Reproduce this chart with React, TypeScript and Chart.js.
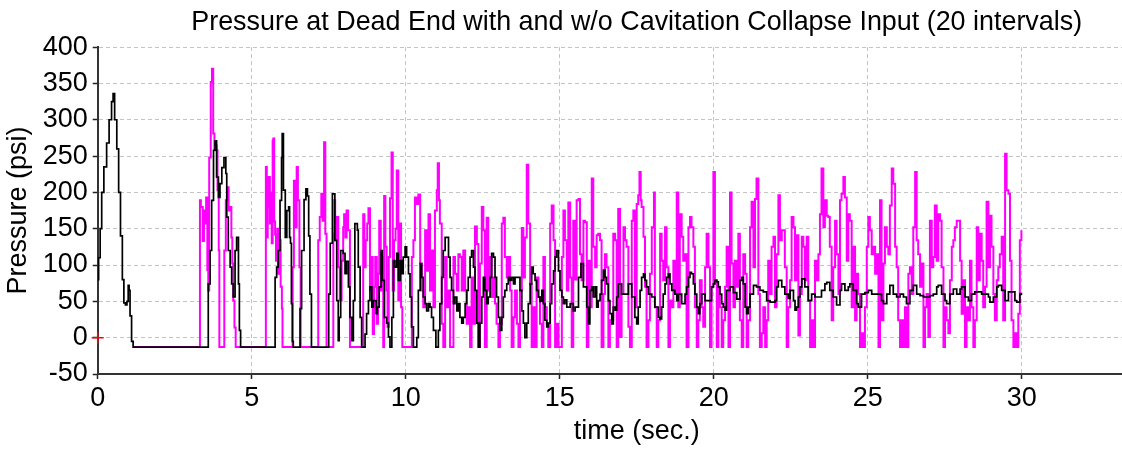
import React, { useEffect, useRef } from "react";
import { Chart, registerables } from "chart.js";

Chart.register(...registerables);

const chartTitle = "Pressure at Dead End with and w/o Cavitation Collapse Input (20 intervals)";
const xAxisTitle = "time (sec.)";
const yAxisTitle = "Pressure (psi)";
const xRange = [0, 35];
const xStep = 5;
const yRange = [-50, 400];
const yStep = 50;

// [time (s), pressure (psi)] — without cavitation collapse input (black)
const withoutCollapse: [number, number][] = [
  [0,80],[0.03,110],[0.08,150],[0.13,200],[0.2,235],[0.29,268],[0.37,300],[0.45,325],[0.5,336],[0.55,300],[0.62,260],[0.68,200],[0.74,140],[0.8,80],[0.85,48],[0.9,45],[0.95,50],[0.99,72],[1.02,65],[1.05,30],[1.1,-5],[1.15,-13],
  [3.54,-13],[3.59,74],[3.65,120],[3.7,189],[3.76,258],[3.81,271],[3.86,221],[3.92,193],[3.97,212],[4.03,234],[4.1,248],[4.16,226],[4.19,166],[4.24,120],[4.3,97],[4.35,74],[4.4,56],[4.46,120],[4.51,138],[4.57,74],[4.6,10],[4.64,-13],
  [5.7,-13],[5.76,83],[5.81,97],[5.86,120],[5.92,189],[5.97,248],[5.99,281],[6.03,203],[6.09,138],[6.14,175],[6.2,180],[6.23,138],[6.26,130],[6.29,47],[6.32,-5],[6.35,-13],
  [6.52,-13],[6.57,40],[6.62,120],[6.7,190],[6.76,205],[6.81,195],[6.85,140],[6.89,60],[6.94,-13],
  [7.43,-13],[7.5,60],[7.55,130],[7.62,198],[7.7,134],[7.76,51],[7.81,-4],[7.84,28],[7.89,120],[7.97,116],[8.03,88],[8.08,105],[8.14,70],[8.19,28],[8.25,-4],[8.3,51],[8.35,157],[8.39,157],[8.43,148],[8.46,97],[8.52,28],[8.57,-13],[8.62,-13],[8.68,5],[8.73,33],[8.79,51],[8.84,70],[8.9,42],[8.95,51],[9.04,33],[9.08,42],[9.14,70],[9.2,120],[9.24,79],[9.31,28],[9.38,20],[9.44,1],[9.49,-13],[9.55,28],[9.6,106],[9.65,97],[9.71,116],[9.76,79],[9.82,106],[9.87,88],[9.92,111],
  [9.98,125],[10.03,111],[10.09,88],[10.14,56],[10.19,15],[10.25,-13],[10.3,-13],[10.36,0],[10.41,65],[10.47,102],[10.52,83],[10.57,56],[10.63,47],[10.68,37],[10.74,47],[10.79,42],[10.84,28],[10.9,10],[10.98,-13],[11.06,10],[11.11,47],[11.17,83],[11.22,120],[11.28,138],[11.33,138],[11.39,111],[11.44,83],[11.49,65],[11.55,47],[11.6,56],[11.66,37],[11.71,47],[11.76,28],[11.82,20],[11.87,28],[11.93,47],[11.98,65],[12.03,83],[12.09,111],[12.14,120],[12.2,97],[12.25,65],[12.31,20],[12.36,-13],[12.41,20],[12.47,56],[12.52,83],[12.57,65],[12.63,47],[12.68,56],[12.74,83],[12.79,116],[12.85,111],[12.9,83],[12.95,56],[13.01,28],[13.06,10],[13.12,28],[13.17,56],[13.22,65],[13.28,74],[13.33,83],[13.39,79],[13.44,83],[13.5,74],[13.55,83],[13.61,83],[13.66,83],[13.71,65],[13.77,37],[13.82,20],[13.87,0],[13.93,20],[13.98,47],[14.04,74],[14.09,97],[14.14,88],[14.2,79],[14.25,65],[14.31,56],[14.36,50],[14.42,65],[14.47,47],[14.52,24],[14.58,15],[14.63,20],[14.69,47],[14.74,74],[14.8,92],[14.85,111],[14.9,120],[14.96,92],[15.01,65],[15.07,56],[15.12,47],[15.17,52],[15.23,42],[15.34,47],[15.44,37],
  [15.5,42],[15.61,83],[15.69,102],[15.77,70],[15.88,42],[15.93,19],[15.98,65],[16.04,70],[16.09,56],[16.15,70],[16.2,42],[16.25,51],[16.31,60],[16.36,79],[16.42,93],[16.47,83],[16.52,74],[16.58,51],[16.63,33],[16.69,19],[16.74,42],[16.8,38],[16.85,56],[16.9,74],[17.01,60],[17.12,60],[17.23,74],[17.34,56],[17.44,28],[17.5,19],[17.55,42],[17.61,65],[17.66,83],[17.72,88],[17.77,79],[17.82,70],[17.88,60],[17.99,56],[18.09,42],[18.2,28],[18.26,26],[18.31,42],[18.36,60],[18.42,74],[18.47,83],[18.53,88],[18.58,74],[18.64,65],[18.74,60],[18.8,51],[18.85,60],[18.96,47],[19.07,60],[19.12,70],[19.18,83],[19.23,90],[19.28,88],[19.34,74],[19.39,60],[19.45,42],[19.5,33],[19.55,47],[19.61,60],[19.72,51],[19.83,51],[19.93,70],[19.99,74],[20.04,79],[20.1,77],[20.15,70],[20.2,60],[20.26,47],[20.31,42],
  [20.37,38],[20.42,65],[20.53,70],[20.64,62],[20.75,53],[20.85,79],[20.91,83],[20.96,74],[21.02,42],[21.07,33],[21.12,42],[21.18,60],[21.29,72],[21.39,70],[21.5,65],[21.61,63],[21.72,51],[21.83,49],[21.94,49],[21.99,51],[22.04,70],[22.1,79],[22.21,70],[22.31,60],[22.42,54],[22.48,65],[22.59,51],[22.64,38],[22.69,42],[22.75,56],[22.8,70],[22.86,81],[22.96,70],[23.07,51],[23.18,60],[23.29,56],[23.4,56],[23.5,65],[23.61,74],[23.67,76],[23.77,65],[23.88,56],[23.99,45],[24.1,65],[24.15,74],[24.26,65],[24.37,70],[24.42,74],[24.53,65],[24.64,47],[24.69,42],[24.8,60],[24.91,62],[25.02,65],[25.13,60],[25.24,60],
  [25.35,60],[25.45,51],[25.51,47],[25.62,60],[25.72,72],[25.83,60],[25.94,56],[26.05,60],[26.16,56],[26.26,47],[26.37,65],[26.48,72],[26.59,60],[26.7,58],[26.81,56],[26.91,56],[27.02,58],[27.13,60],[27.24,70],[27.29,72],[27.4,60],[27.51,51],[27.56,47],[27.67,60],[27.78,67],[27.89,60],[28,67],[28.05,70],[28.16,56],[28.27,51],[28.37,60],[28.48,63],[28.59,63],[28.7,60],[28.81,60],[28.92,56],[28.97,49],[29.08,56],[29.19,70],[29.24,72],[29.35,65],[29.46,51],[29.57,63],[29.67,63],[29.78,51],[29.84,49],[29.94,60],[29.99,62],
];

// [time (s), pressure (psi)] — with cavitation collapse input (magenta)
const withCollapse: [number, number][] = [
  [1.15,-13],[3.30,-13],[3.32,189],[3.35,180],[3.41,133],[3.45,175],[3.48,157],[3.52,193],[3.56,93],[3.59,65],[3.62,248],[3.67,352],[3.71,370],[3.75,281],[3.79,258],[3.82,265],[3.86,258],[3.89,203],[3.93,120],[3.95,-13],[4.08,-13],[4.11,120],[4.16,189],[4.21,207],[4.25,175],[4.29,180],[4.34,138],[4.37,102],[4.40,51],[4.44,14],[4.48,-13],
  [5.45,-13],[5.46,235],[5.49,138],[5.52,180],[5.55,221],[5.59,157],[5.62,200],[5.65,130],[5.68,271],[5.70,274],[5.73,160],[5.76,142],[5.79,106],[5.83,150],[5.86,88],[5.90,134],[5.94,70],[5.98,40],[6.00,-13],[6.30,-13],[6.33,97],[6.37,216],[6.41,152],[6.46,235],[6.50,189],[6.55,97],[6.59,-13],[7.14,-13],[7.16,134],[7.21,166],[7.26,198],[7.30,161],[7.35,269],[7.39,143],[7.43,-13],[7.62,-13],[7.65,143],[7.68,189],[7.71,134],[7.76,166],[7.81,97],[7.86,51],[7.92,106],[7.97,152],[8.00,170],[8.04,138],[8.08,175],[8.13,148],[8.19,-13],[8.60,-13],[8.62,170],[8.66,97],[8.70,134],[8.75,157],[8.79,178],[8.84,65],[8.88,111],[8.93,5],[8.97,70],[9.01,111],[9.06,19],[9.10,88],[9.14,161],[9.19,65],[9.23,111],[9.27,-13],[9.30,195],[9.34,125],[9.38,65],[9.41,15],[9.45,111],[9.49,192],[9.54,255],[9.58,65],[9.62,134],[9.67,150],[9.71,230],[9.76,51],[9.81,157],[9.85,42],[9.89,-13],[10.16,-13],
  [10.20,111],[10.25,134],[10.30,193],[10.36,184],[10.41,197],[10.47,102],[10.52,65],[10.57,42],[10.63,148],[10.68,92],[10.74,170],[10.79,65],[10.84,120],[10.90,42],[10.95,175],[11.01,203],[11.04,240],[11.08,189],[11.11,157],[11.17,19],[11.22,-13],[11.28,111],[11.33,42],[11.39,65],[11.44,-13],[11.49,-13],[11.55,111],[11.60,88],[11.66,65],[11.71,115],[11.76,111],[11.82,65],[11.87,120],[11.93,65],[11.98,19],[12.03,42],[12.09,-13],[12.14,83],[12.20,19],[12.25,153],[12.31,129],[12.36,-13],[12.41,102],[12.47,180],[12.52,148],[12.57,-13],[12.63,165],[12.68,65],[12.74,111],[12.79,56],[12.85,83],[12.90,47],[12.95,19],[13.01,-13],[13.06,19],[13.12,157],[13.17,165],[13.22,111],[13.28,83],[13.33,111],[13.39,65],[13.44,-13],[13.50,28],[13.55,65],[13.61,19],[13.66,-13],[13.71,65],[13.77,151],[13.82,83],[13.87,138],[13.93,238],[13.98,157],[14.04,74],[14.09,-13],[14.14,42],[14.20,-13],[14.25,83],[14.31,56],[14.36,19],[14.42,-13],[14.47,111],[14.52,42],[14.58,19],[14.63,-13],[14.69,157],[14.74,182],[14.80,134],[14.85,-13],[14.90,19],[14.96,-13],[15.07,111],[15.12,175],[15.17,134],[15.23,65],[15.28,186],[15.34,83],[15.39,-13],[15.44,161],[15.50,80],
  [15.55,189],[15.61,191],[15.66,115],[15.71,79],[15.77,161],[15.82,159],[15.88,-13],[15.93,106],[15.98,42],[16.04,219],[16.09,125],[16.15,97],[16.20,141],[16.25,143],[16.31,134],[16.36,-13],[16.42,60],[16.47,115],[16.52,97],[16.58,-13],[16.63,24],[16.69,24],[16.74,143],[16.80,134],[16.85,-13],[16.90,177],[16.96,1],[17.01,60],[17.07,152],[17.12,134],[17.17,125],[17.23,15],[17.28,-13],[17.34,161],[17.39,175],[17.44,42],[17.50,184],[17.55,196],[17.59,228],[17.63,189],[17.66,180],[17.72,139],[17.77,70],[17.82,-13],[17.88,24],[17.93,88],[17.99,152],[18.06,200],[18.09,42],[18.15,-13],[18.20,24],[18.26,143],[18.31,106],[18.36,79],[18.42,152],[18.47,97],[18.53,-13],[18.58,51],[18.64,42],[18.69,106],[18.74,60],[18.80,200],[18.85,42],[18.90,170],[18.96,139],[19.01,106],[19.07,115],[19.12,-13],[19.18,152],[19.23,166],[19.28,152],[19.34,125],[19.39,42],[19.45,-13],[19.50,24],[19.55,79],[19.61,42],[19.66,15],[19.72,97],[19.77,143],[19.83,97],[19.88,-13],[19.93,70],[19.99,228],[20.04,79],[20.10,-13],[20.15,70],[20.20,42],[20.26,-13],[20.31,24],[20.37,70],[20.42,125],
  [20.48,-13],[20.53,200],[20.58,102],[20.64,42],[20.69,106],[20.75,70],[20.80,143],[20.85,24],[20.91,-13],[20.96,115],[21.02,88],[21.07,-13],[21.12,24],[21.18,152],[21.23,187],[21.29,97],[21.34,191],[21.39,219],[21.45,60],[21.50,-13],[21.56,6],[21.61,42],[21.67,-13],[21.72,24],[21.77,106],[21.83,60],[21.88,125],[21.94,139],[21.99,42],[22.04,115],[22.10,196],[22.15,134],[22.21,148],[22.26,148],[22.31,97],[22.37,-13],[22.42,42],[22.48,79],[22.53,166],[22.59,152],[22.64,79],[22.69,141],[22.75,3],[22.80,60],[22.86,139],[22.91,125],[22.96,79],[23.02,139],[23.07,51],[23.13,-13],[23.18,24],[23.23,-13],[23.29,106],[23.34,79],[23.40,115],[23.45,170],[23.50,233],[23.56,152],[23.61,189],[23.67,168],[23.72,166],[23.77,125],[23.83,24],[23.88,97],[23.94,161],[23.99,115],[24.05,60],[24.10,189],[24.15,198],[24.21,221],[24.26,193],[24.32,106],[24.37,170],[24.42,161],[24.48,42],[24.53,125],[24.59,24],[24.64,88],[24.69,60],[24.75,-13],[24.80,6],[24.86,-13],[24.91,42],[24.97,125],[25.02,166],[25.07,148],[25.13,115],[25.18,125],[25.24,88],
  [25.29,115],[25.35,-13],[25.40,189],[25.45,24],[25.51,102],[25.56,152],[25.62,125],[25.67,115],[25.72,182],[25.78,233],[25.83,212],[25.89,125],[25.94,97],[25.99,24],[26.05,-13],[26.10,24],[26.16,-13],[26.21,42],[26.26,-13],[26.32,88],[26.37,97],[26.43,60],[26.48,152],[26.54,228],[26.59,134],[26.64,115],[26.70,70],[26.75,102],[26.81,-13],[26.86,42],[26.91,60],[26.97,1],[27.02,161],[27.08,97],[27.13,111],[27.18,182],[27.24,106],[27.29,170],[27.35,161],[27.40,97],[27.46,-13],[27.51,42],[27.56,24],[27.62,6],[27.67,79],[27.73,125],[27.78,134],[27.83,152],[27.89,161],[27.94,161],[28.00,106],[28.05,33],[28.10,79],[28.16,-13],[28.21,42],[28.27,24],[28.32,106],[28.37,42],[28.43,-13],[28.48,24],[28.54,152],[28.59,79],[28.64,143],[28.70,106],[28.75,42],[28.81,70],[28.86,187],[28.92,97],[28.97,168],[29.02,125],[29.08,60],[29.13,24],[29.19,79],[29.24,97],[29.29,115],[29.35,139],[29.40,24],[29.46,253],[29.51,203],[29.57,198],[29.62,106],[29.67,24],[29.73,-13],[29.78,6],[29.84,-13],[29.89,33],[29.94,134],[29.99,148],
];

// origin marker
const originMarker: [number, number][] = [[0, 0]];

const FONT = "'Liberation Sans', Arial, sans-serif";

export default function App() {
  const canvasRef = useRef<HTMLCanvasElement>(null);

  useEffect(() => {
    const canvas = canvasRef.current;
    if (!canvas) return;
    const toXY = (arr: [number, number][]) => arr.map(([x, y]) => ({ x, y }));
    const chart = new Chart(canvas, {
      type: "line",
      data: {
        datasets: [
          {
            label: "origin",
            data: toXY(originMarker),
            showLine: false,
            pointStyle: "cross",
            pointRadius: 6,
            borderColor: "#ff0000",
            backgroundColor: "#ff0000",
            borderWidth: 1.5,
            clip: false,
            order: 0,
          },
          {
            label: "w/o collapse input",
            data: toXY(withoutCollapse),
            borderColor: "#000000",
            borderWidth: 1.7,
            pointRadius: 0,
            stepped: true,
            fill: false,
            order: 1,
          },
          {
            label: "with collapse input",
            data: toXY(withCollapse),
            borderColor: "#ff00ff",
            borderWidth: 2,
            pointRadius: 0,
            stepped: true,
            fill: false,
            order: 2,
          },
        ],
      },
      options: {
        responsive: false,
        animation: false,
        devicePixelRatio: 1,
        layout: { padding: { left: 0, right: 24.3, top: 0, bottom: 0 } },
        plugins: {
          legend: { display: false },
          tooltip: { enabled: false },
          title: {
            display: true,
            text: chartTitle,
            fullSize: false,
            color: "#000",
            font: { family: FONT, size: 26.9, weight: "normal" },
            padding: { top: 6.8, bottom: 8 },
          },
        },
        scales: {
          x: {
            type: "linear",
            min: xRange[0],
            max: xRange[1],
            afterFit: (s: any) => {
              s.height = 75;
            },
            ticks: {
              stepSize: xStep,
              color: "#000",
              font: { family: FONT, size: 27 },
              padding: 3,
              maxRotation: 0,
            },
            grid: {
              color: "#c4c4c4",
              lineWidth: 1,
              tickColor: "#222",
              tickLength: 5,
              tickWidth: 1.5,
              tickBorderDash: [],
            },
            border: { display: true, color: "#333", width: 2, dash: [4, 3] },
            title: {
              display: true,
              text: xAxisTitle,
              color: "#000",
              font: { family: FONT, size: 27 },
              padding: { top: 0, bottom: 1 },
            },
          },
          y: {
            type: "linear",
            min: yRange[0],
            max: yRange[1],
            afterFit: (s: any) => {
              s.width = 97.7;
            },
            ticks: {
              stepSize: yStep,
              color: "#000",
              font: { family: FONT, size: 27 },
              padding: 5,
            },
            grid: {
              color: "#c4c4c4",
              lineWidth: 1,
              tickColor: "#222",
              tickLength: 5,
              tickWidth: 1.5,
              tickBorderDash: [],
            },
            border: { display: true, color: "#333", width: 2, dash: [4, 3] },
            title: {
              display: true,
              text: yAxisTitle,
              color: "#000",
              font: { family: FONT, size: 27 },
              padding: { top: 2, bottom: 0 },
            },
          },
        },
      } as any,
    });
    return () => chart.destroy();
  }, []);

  return (
    <div
      style={{
        position: "fixed",
        left: 0,
        top: 0,
        width: 1122,
        height: 449,
        overflow: "hidden",
        background: "#ffffff",
      }}
    >
      <canvas ref={canvasRef} width={1200} height={449} style={{ display: "block" }} />
    </div>
  );
}
